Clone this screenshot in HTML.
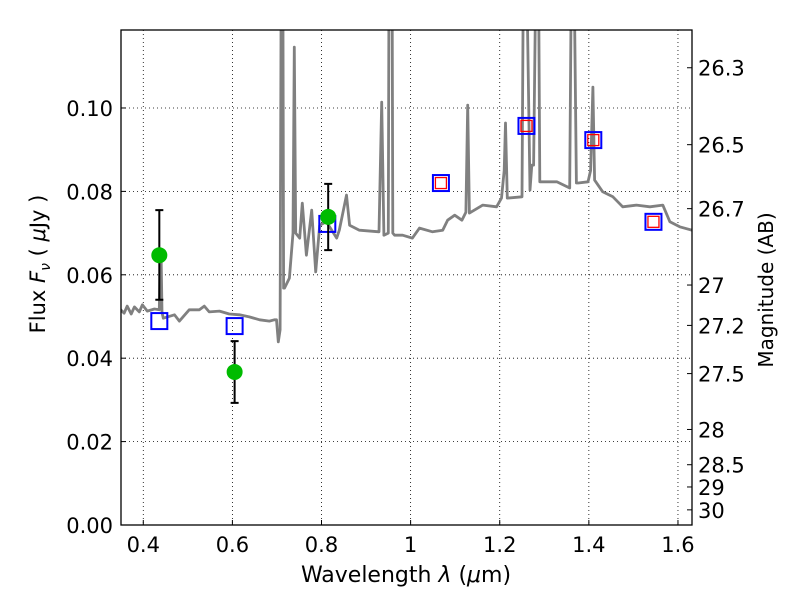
<!DOCTYPE html>
<html><head><meta charset="utf-8"><style>
body{margin:0;background:#fff;}
svg{font-family:"DejaVu Sans","Liberation Sans",sans-serif;}
</style></head><body>
<svg id="chart" width="800" height="600" xmlns="http://www.w3.org/2000/svg">
<rect width="800" height="600" fill="#fff"/>
<g id="grid"></g>
<g id="plot"></g>
<g id="axes"></g>
<text x="406" y="582" font-size="22" text-anchor="middle">Wavelength  <tspan font-style="italic">λ</tspan> (<tspan font-style="italic">μ</tspan>m)</text>
<text transform="translate(45,264) rotate(-90)" font-size="21" text-anchor="middle">Flux  <tspan font-style="italic">F</tspan><tspan font-style="italic" font-size="14" dy="5">ν</tspan><tspan dy="-5">  (  </tspan><tspan font-style="italic">μ</tspan>Jy )</text>
<text transform="translate(773,290) rotate(-90)" font-size="20" text-anchor="middle">Magnitude (AB)</text>
</svg>
<script>
const specWave=[0.346,0.357,0.364,0.373,0.380,0.391,0.398,0.409,0.425,0.436,0.438,0.440,0.442,0.445,0.470,0.481,0.503,0.526,0.537,0.548,0.571,0.593,0.616,0.638,0.661,0.683,0.694,0.699,0.703,0.707,0.710,0.713,0.715,0.717,0.728,0.736,0.739,0.742,0.751,0.757,0.766,0.778,0.787,0.796,0.811,0.834,0.840,0.856,0.863,0.885,0.929,0.935,0.940,0.950,0.952,0.958,0.960,0.964,0.982,1.004,1.020,1.049,1.072,1.083,1.099,1.115,1.124,1.128,1.132,1.162,1.193,1.204,1.210,1.213,1.217,1.250,1.254,1.258,1.268,1.272,1.276,1.283,1.286,1.290,1.295,1.299,1.328,1.357,1.362,1.365,1.372,1.376,1.398,1.404,1.409,1.413,1.431,1.454,1.476,1.507,1.537,1.566,1.582,1.604,1.631];
const specFlux=[.0520,.0508,.0525,.0506,.0523,.0511,.0528,.0513,.0518,.0516,.0647,.0647,.0510,.0496,.0504,.0489,.0516,.0516,.0525,.0511,.0513,.0506,.0504,.0499,.0492,.0489,.0492,.0492,.0439,.0468,.15,.15,.0568,.0568,.0592,.0700,.1146,.0700,.0688,.0772,.0647,.0755,.0607,.0719,.0727,.0688,.0707,.0791,.0719,.0707,.0703,.1014,.0695,.0700,.15,.15,.0700,.0695,.0695,.0688,.0712,.0703,.0707,.0731,.0743,.0731,.0750,.1007,.0748,.0767,.0763,.0784,.0850,.0964,.0784,.0787,.15,.15,.0803,.0863,.0863,.15,.15,.0823,.0823,.0823,.0823,.0808,.15,.15,.0820,.0820,.0823,.0850,.1050,.0827,.0799,.0787,.0763,.0767,.0763,.0767,.0727,.0715,.0707];
const modelWave=[0.436,0.605,0.813,1.068,1.260,1.410,1.545];
const modelFlux=[0.0489,0.0477,0.0722,0.0820,0.0957,0.0923,0.0727];
const redWave=[1.068,1.260,1.410,1.545];
const redFlux=[0.0820,0.0957,0.0923,0.0727];
const obsWave=[0.436,0.605,0.815];
const obsFlux=[0.0647,0.0367,0.0739];
const obsLo=[0.0540,0.0293,0.0659];
const obsHi=[0.0755,0.0441,0.0818];
const xTicks=[0.4,0.6,0.8,1.0,1.2,1.4,1.6];
const xTickLabels=["0.4","0.6","0.8","1","1.2","1.4","1.6"];
const yTicks=[0,0.02,0.04,0.06,0.08,0.10];
const yTickLabels=["0.00","0.02","0.04","0.06","0.08","0.10"];
const magTicks=[26.3,26.5,26.7,27,27.2,27.5,28,28.5,29,30];
const magLabels=["26.3","26.5","26.7","27","27.2","27.5","28","28.5","29","30"];

const L=121,R=692,T=30,B=525;
const X0=0.35,X1=1.6315,Y0=0,Y1=0.1187;
const sx=v=>L+(v-X0)/(X1-X0)*(R-L);
const sy=v=>B-(v-Y0)/(Y1-Y0)*(B-T);
const NS="http://www.w3.org/2000/svg";
function mk(tag,attrs,parent){const e=document.createElementNS(NS,tag);for(const k in attrs)e.setAttribute(k,attrs[k]);parent.appendChild(e);return e;}
const grid=document.getElementById('grid'),plot=document.getElementById('plot'),axes=document.getElementById('axes');

const defs=mk('defs',{},document.getElementById('chart'));
const cp=mk('clipPath',{id:'clip'},defs);mk('rect',{x:L,y:T,width:R-L,height:B-T},cp);
plot.setAttribute('clip-path','url(#clip)');

xTicks.forEach((t,i)=>{
 const x=sx(t);
 const g=mk('line',{x1:x,x2:x,y1:T,y2:B,stroke:'#000','stroke-width':0.8,'stroke-dasharray':'1,3'},grid);
 
 
 const tk=mk('line',{x1:x,x2:x,y1:B,y2:B-5,stroke:'#000'},axes);
 
 
 const tx=mk('text',{x:x,y:B+27,'font-size':21,'text-anchor':'middle'},axes);
 tx.textContent=xTickLabels[i];
 
 
});
yTicks.forEach((t,i)=>{
 const y=sy(t);
 const g=mk('line',{x1:L,x2:R,y1:y,y2:y,stroke:'#000','stroke-width':0.8,'stroke-dasharray':'1,3'},grid);
 
 
 const tk=mk('line',{x1:L,x2:L+5,y1:y,y2:y,stroke:'#000'},axes);
 
 
 const tx=mk('text',{x:L-8,y:y+8,'font-size':21,'text-anchor':'end'},axes);
 tx.textContent=yTickLabels[i];
 
 
});
magTicks.forEach((m,i)=>{
 const y=sy(Math.pow(10,(23.9-m)/2.5));
 const tk=mk('line',{x1:R,x2:R-5,y1:y,y2:y,stroke:'#000'},axes);
 
 
 const tx=mk('text',{x:R+6,y:y+8,'font-size':21},axes);
 tx.textContent=magLabels[i];
 
 
});

const pts=specWave.map((w,i)=>sx(w).toFixed(1)+','+sy(specFlux[i]).toFixed(1)).join(' ');
const sp=mk('polyline',{points:pts,fill:'none',stroke:'#808080','stroke-width':2.8,'stroke-linejoin':'round'},plot);



modelWave.forEach((w,i)=>{
 const x=sx(w),y=sy(modelFlux[i]);
 const s=mk('rect',{x:x-8,y:y-8,width:16,height:16,fill:'none',stroke:'#0000ff','stroke-width':2},plot);
 
 
});
redWave.forEach((w,i)=>{
 const x=sx(w),y=sy(redFlux[i]);
 const s=mk('rect',{x:x-5.5,y:y-5.5,width:11,height:11,fill:'none',stroke:'#ff0000','stroke-width':1.3},plot);
 
 
});
obsWave.forEach((w,i)=>{
 const x=sx(w),y1=sy(obsLo[i]),y2=sy(obsHi[i]);
 const eb=mk('path',{d:`M${x},${y1}V${y2}M${x-4},${y1}H${x+4}M${x-4},${y2}H${x+4}`,stroke:'#000','stroke-width':2,fill:'none'},plot);
 
 
 const c=mk('circle',{cx:x,cy:sy(obsFlux[i]),r:8,fill:'#00bb00'},plot);
 
 
});
const fr=mk('rect',{x:L,y:T,width:R-L,height:B-T,fill:'none',stroke:'#000','stroke-width':1.3},axes);


</script>
</body></html>
